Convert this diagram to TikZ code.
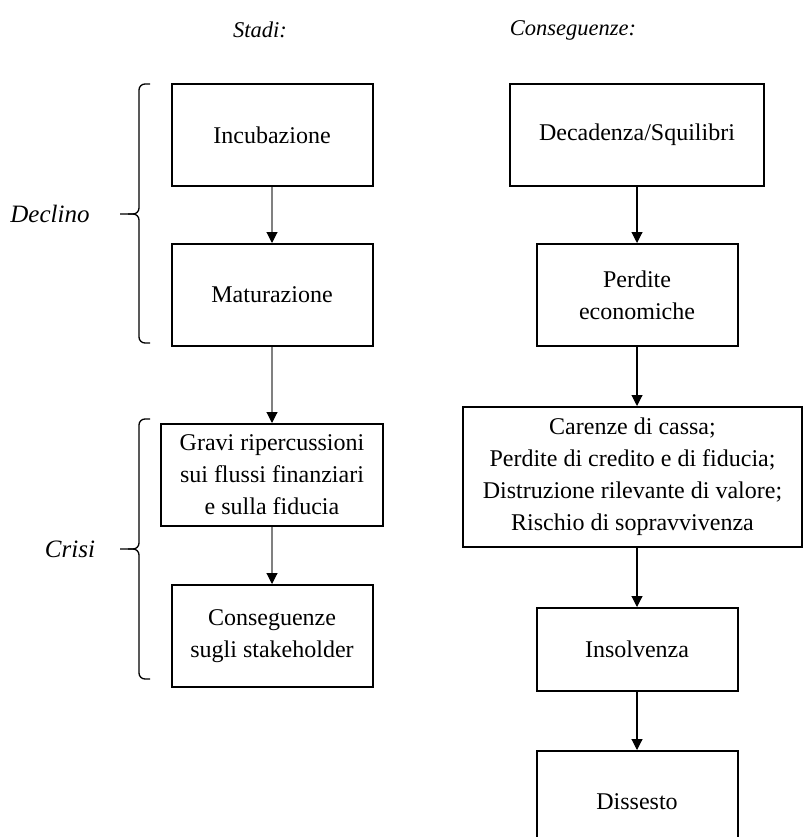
\documentclass[tikz,border=0pt]{standalone}
\usepackage{fontspec}
\setmainfont{Liberation Serif}
\usepackage{tikz}
\usetikzlibrary{arrows.meta, positioning}
\definecolor{flowgray}{HTML}{808080}
% brace: top y, bottom y, tip y
\newcommand{\phasebrace}[3]{%
  \draw[braceline, rounded corners=6pt] (150,#1) -- (139,#1) -- (139,#3) -- (120,#3);
  \draw[braceline, rounded corners=6pt] (128,#3) -- (139,#3) -- (139,#2) -- (150,#2);}

\begin{document}
\begin{tikzpicture}[
    x=1pt, y=-1pt,
    font=\fontsize{24}{32}\selectfont,
    stagebox/.style={draw=black, line width=2pt, align=center, inner sep=0pt,
                     minimum width=201pt, minimum height=102pt},
    heading/.style={font=\fontsize{22.5}{27}\selectfont\itshape},
    phase/.style={font=\fontsize{25}{30}\selectfont\itshape},
    grayline/.style={draw=flowgray, line width=1.1pt, -{Triangle[width=11pt,length=11pt,color=black]}},
    line/.style={draw=black, line width=1.1pt, -{Triangle[width=11pt,length=11pt]}},
    braceline/.style={draw=black, line width=1.3pt}
]
  \useasboundingbox (0,0) rectangle (803,837);
  \clip (0,0) rectangle (803,837);

  % Headings
  \node[heading] (stadi)  at (260,30) {Stadi:};
  \node[heading] (conseg) at (573,30) {Conseguenze:};

  % Column 1: Stadi
  \node[stagebox] (inc) at (272,135) {Incubazione};
  \node[stagebox, below=56pt of inc] (mat) {Maturazione};
  \node[stagebox, minimum width=222pt, below=76pt of mat] (gravi)
    {Gravi ripercussioni\\sui flussi finanziari\\e sulla fiducia};
  \node[stagebox, below=57pt of gravi] (stake) {Conseguenze\\sugli stakeholder};

  % Column 2: Conseguenze
  \node[stagebox, minimum width=254pt] (dec) at (637,135) {Decadenza/Squilibri};
  \node[stagebox, below=56pt of dec] (perd) {Perdite\\economiche};
  \node[stagebox, minimum width=339pt, minimum height=140pt, below=59pt of perd, xshift=-4.5pt] (car)
    {Carenze di cassa;\\Perdite di credito e di fiducia;\\Distruzione rilevante di valore;\\Rischio di sopravvivenza};
  \node[stagebox, minimum height=83pt, below=59pt of car, xshift=4.5pt] (insol) {Insolvenza};
  \node[stagebox, below=58pt of insol] (diss) {Dissesto};

  % Phases
  \node[phase] (declino) at (50,214) {Declino};
  \node[phase] (crisi)   at (70,549) {Crisi};
  \phasebrace{84}{343}{214}
  \phasebrace{419}{679}{549}

  % Flow lines
  \draw[grayline] (inc) -- (mat);
  \draw[grayline] (mat) -- (gravi);
  \draw[grayline] (gravi) -- (stake);
  \draw[line] (dec) -- (perd);
  \draw[line] (perd) -- (perd.south |- car.north);
  \draw[line] (car.south -| insol) -- (insol);
  \draw[line] (insol) -- (diss);
\end{tikzpicture}
\end{document}
